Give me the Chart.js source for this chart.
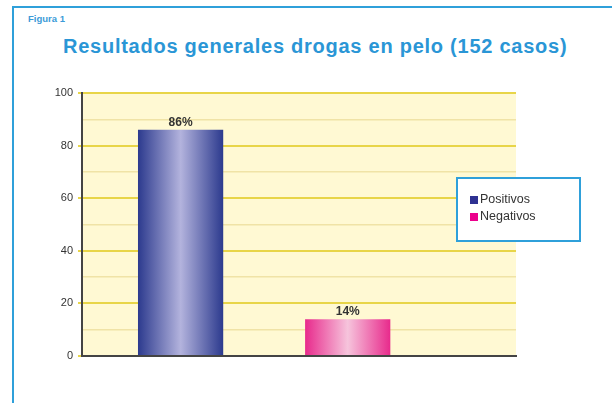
<!DOCTYPE html>
<html><head><meta charset="utf-8">
<script src="https://cdn.jsdelivr.net/npm/chart.js@4/dist/chart.umd.min.js"></script>
<style>
html,body{margin:0;padding:0;background:#fff;}
#wrap{position:relative;width:612px;height:403px;overflow:hidden;font-family:"Liberation Sans",Arial,sans-serif;}
#frame{position:absolute;left:12px;top:6px;width:700px;height:500px;border-left:2px solid #2FA0DA;border-top:2px solid #2FA0DA;}
#fig{position:absolute;left:28px;top:13px;font-size:9.5px;font-weight:bold;color:#3C9BD8;}
#title{position:absolute;left:63px;top:35px;font-size:20px;font-weight:bold;color:#2A96D6;letter-spacing:0.75px;white-space:nowrap;}
canvas{position:absolute;left:0;top:0;}
</style></head>
<body><div id="wrap"><div id="frame"></div><div id="fig">Figura 1</div><div id="title">Resultados generales drogas en pelo (152 casos)</div><canvas id="c" width="612" height="403"></canvas></div>
<script>
const categories = ['Positivos', 'Negativos'];
const values = [86, 14];
const valueLabels = ['86%', '14%'];
const legendColors = ['#2E3192', '#EC008C'];
const gradEdge = ['#2C3A8E', '#E82A8C'];
const gradMid = ['#B3B3DD', '#F6C4DC'];
const yTicks = [0, 20, 40, 60, 80, 100];

const BAR_PCT = 0.51;
function barGradient(ctx, i) {
  const chart = ctx.chart;
  const xs = chart.scales.x;
  if (!chart.chartArea || !xs) return gradEdge[i];
  const c = xs.getPixelForValue(i);
  const half = BAR_PCT * Math.abs(xs.getPixelForValue(1) - xs.getPixelForValue(0)) / 2;
  const g = chart.ctx.createLinearGradient(c - half, 0, c + half, 0);
  g.addColorStop(0, gradEdge[i]);
  g.addColorStop(0.5, gradMid[i]);
  g.addColorStop(1, gradEdge[i]);
  return g;
}

const bgPlugin = {
  id: 'bg',
  beforeDraw(chart) {
    const {ctx, chartArea: a} = chart;
    ctx.save();
    ctx.fillStyle = '#FFF9D3';
    ctx.fillRect(a.left, a.top, a.right - a.left, a.bottom - a.top);
    ctx.restore();
  }
};
const labelPlugin = {
  id: 'vlabels',
  afterDatasetsDraw(chart) {
    const ctx = chart.ctx;
    ctx.save();
    ctx.font = 'bold 12px "Liberation Sans", Arial, sans-serif';
    ctx.fillStyle = '#333';
    ctx.textAlign = 'center';
    ctx.textBaseline = 'bottom';
    chart.data.datasets.forEach((ds, di) => {
      const el = chart.getDatasetMeta(di).data[0];
      if (el) ctx.fillText(valueLabels[di], el.x, el.y - 1);
    });
    ctx.restore();
  },
  afterDraw(chart) {
    const ctx = chart.ctx;
    ctx.save();
    const x = 457, y = 178, w = 123, h = 63;
    ctx.fillStyle = '#fff';
    ctx.fillRect(x, y, w, h);
    ctx.strokeStyle = '#2FA0DA';
    ctx.lineWidth = 2;
    ctx.strokeRect(x, y, w, h);
    ctx.font = '12.5px "Liberation Sans", Arial, sans-serif';
    ctx.textBaseline = 'middle';
    ctx.textAlign = 'left';
    chart.data.datasets.forEach((ds, di) => {
      const yy = 200 + di * 17;
      ctx.fillStyle = legendColors[di];
      ctx.fillRect(470, yy - 4, 8, 8);
      ctx.fillStyle = '#333';
      ctx.fillText(ds.label, 480, yy);
    });
    ctx.restore();
  }
};

new Chart(document.getElementById('c'), {
  type: 'bar',
  data: {
    datasets: categories.map((name, i) => ({
      label: name,
      data: [{x: i, y: values[i]}],
      backgroundColor: (ctx) => barGradient(ctx, i),
      borderWidth: 0,
      barPercentage: BAR_PCT,
      categoryPercentage: 1
    }))
  },
  options: {
    responsive: false,
    animation: false,
    devicePixelRatio: 1,
    layout: {padding: {left: 0, right: 96, top: 93, bottom: 47}},
    plugins: {legend: {display: false}, tooltip: {enabled: false}, title: {display: false}},
    datasets: {bar: {grouped: false}},
    scales: {
      x: {
        type: 'linear', min: -0.59, max: 2.007, z: 1, offset: false,
        afterBuildTicks(s) { s.ticks = categories.map((_, i) => ({value: i})); },
        ticks: {display: false},
        grid: {display: true, color: 'transparent', drawTicks: false},
        border: {display: true, color: '#444', width: 2},
        afterFit(s) { s.height = 0; }
      },
      y: {
        min: 0, max: 100,
        afterBuildTicks(s) {
          const t = [];
          for (let v = 0; v <= 100; v += 10) t.push({value: v});
          s.ticks = t;
        },
        ticks: {
          padding: 5,
          color: '#333',
          font: {family: '"Liberation Sans", Arial, sans-serif', size: 11},
          callback: (v) => yTicks.includes(v) ? String(v) : ''
        },
        grid: {
          tickLength: 4,
          color: (c) => c.tick && c.tick.value === 0 ? 'transparent' : (c.tick && c.tick.value % 20 === 0 ? '#E8D548' : '#F0E3A6'),
          lineWidth: (c) => c.tick && c.tick.value % 20 === 0 ? 2 : 1.5,
          tickColor: (c) => c.tick && c.tick.value % 20 === 0 ? '#E8D548' : 'transparent'
        },
        border: {display: true, color: '#444', width: 2},
        afterFit(s) { s.width = 82; }
      }
    }
  },
  plugins: [bgPlugin, labelPlugin]
});
</script></body></html>
